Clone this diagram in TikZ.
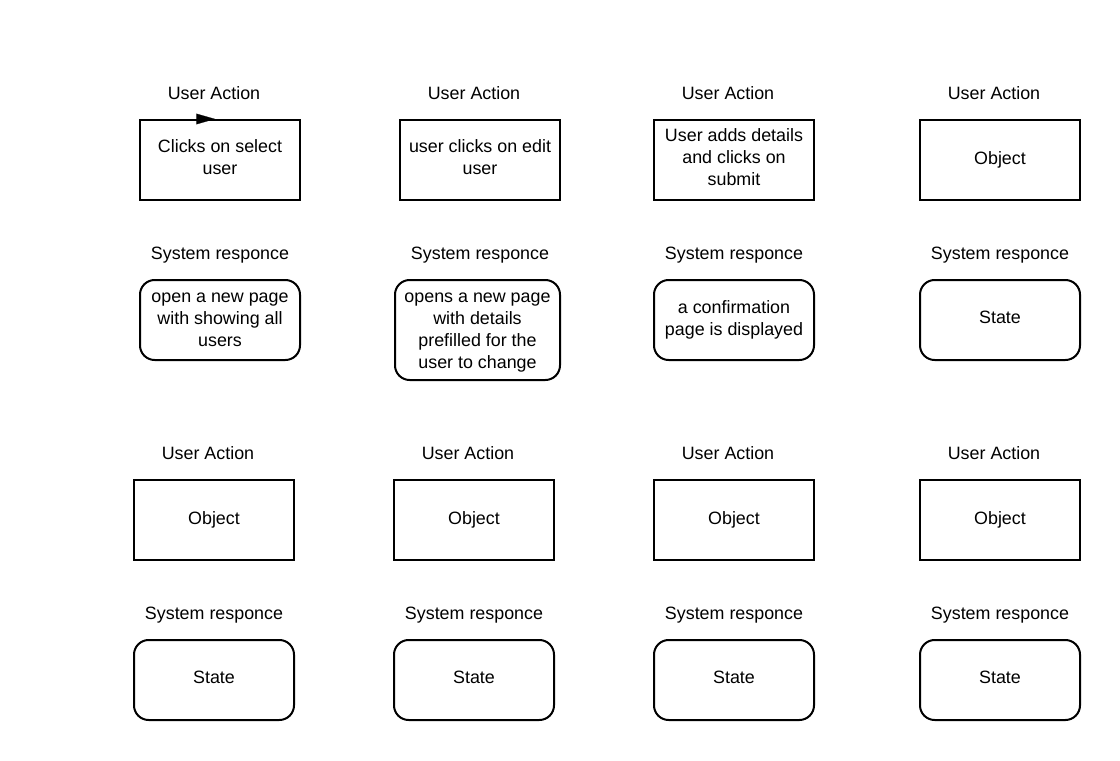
\documentclass[tikz,border=0pt]{standalone}
\usepackage{fontspec}
\setmainfont{Liberation Sans}
\usetikzlibrary{arrows.meta}
% struts that nudge the text block inside a box up or down
\newcommand{\liftstrut}{\rule[-4.5pt]{0pt}{4.5pt}}
\newcommand{\dropstrut}{\rule{0pt}{11.5pt}}
\begin{document}
\begin{tikzpicture}[x=0.75pt,y=-0.75pt,
  every node/.style={font=\fontsize{13.4}{16.5}\selectfont, inner sep=0pt, align=center},
  actbox/.style={draw, line width=1.5pt, minimum width=120pt, minimum height=60pt},
  respbox/.style={actbox, rounded corners=11pt},
  caption/.style={anchor=center}]
  \fill[white] (0,0) rectangle (1120,760);
  \useasboundingbox (0,0) rectangle (1120,760);

  % first block: user actions
  \node[caption] (la1) at (214,93) {User Action};
  \node[caption] (la2) at (474,93) {User Action};
  \node[caption] (la3) at (728,93) {User Action};
  \node[caption] (la4) at (994,93) {User Action};
  \node[actbox] (a1) at (220,160) {Clicks on select\\user\liftstrut};
  \node[actbox] (a2) at (480,160) {user clicks on edit\\user\liftstrut};
  \node[actbox] (a3) at (734,160) {User adds details\\and clicks on\\submit\liftstrut};
  \node[actbox] (a4) at (1000,160) {Object};

  % first block: system responses
  \node[caption] (lr1) at (220,255) {System responce};
  \node[caption] (lr2) at (480,255) {System responce};
  \node[caption] (lr3) at (734,255) {System responce};
  \node[caption] (lr4) at (1000,255) {System responce};
  \node[respbox] (r1) at (220,320) {open a new page\\with showing all\\users};
  \node[respbox, minimum width=123.75pt, minimum height=75pt] (r2) at (477.5,330)
    {\dropstrut opens a new page\\with details\\prefilled for the\\user to change};
  \node[respbox] (r3) at (734,320) {a confirmation\\page is displayed};
  \node[respbox] (r4) at (1000,320) {State\liftstrut};

  % second block: user actions
  \node[caption] (lb1) at (208,453) {User Action};
  \node[caption] (lb2) at (468,453) {User Action};
  \node[caption] (lb3) at (728,453) {User Action};
  \node[caption] (lb4) at (994,453) {User Action};
  \node[actbox] (b1) at (214,520) {Object};
  \node[actbox] (b2) at (474,520) {Object};
  \node[actbox] (b3) at (734,520) {Object};
  \node[actbox] (b4) at (1000,520) {Object};

  % second block: system responses
  \node[caption] (ls1) at (214,615) {System responce};
  \node[caption] (ls2) at (474,615) {System responce};
  \node[caption] (ls3) at (734,615) {System responce};
  \node[caption] (ls4) at (1000,615) {System responce};
  \node[respbox] (s1) at (214,680) {State\liftstrut};
  \node[respbox] (s2) at (474,680) {State\liftstrut};
  \node[respbox] (s3) at (734,680) {State\liftstrut};
  \node[respbox] (s4) at (1000,680) {State\liftstrut};

  % small arrow head sitting on the top edge of the first box
  \coordinate (tipstart) at (196,119);
  \coordinate (tipend) at (215,119);
  \draw[line width=0.1pt, -{Triangle[length=14pt,width=8pt]}] (tipstart) -- (tipend);
\end{tikzpicture}
\end{document}
